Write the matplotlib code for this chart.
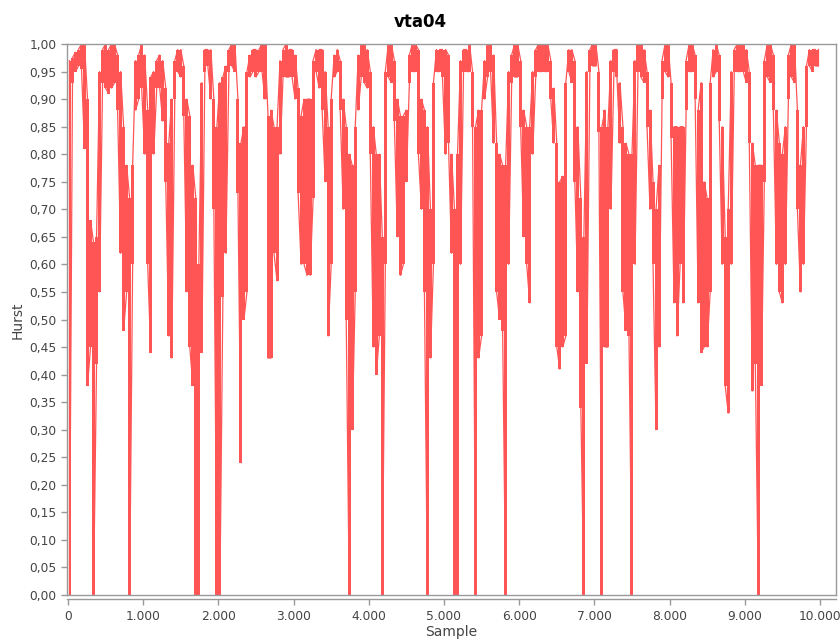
import numpy as np
import matplotlib
matplotlib.use("Agg")
import matplotlib.pyplot as plt
from matplotlib.ticker import FuncFormatter, MultipleLocator

plt.rcParams["path.simplify"] = False

# Per-bin (40 samples) max and min of the Hurst series
bin_width = 40
hurst_max = [
    0.97, 0.975, 0.985, 0.99, 1.0, 1.0, 0.9, 0.68, 0.64, 0.65,
    0.95, 0.99, 1.0, 0.99, 1.0, 1.0, 0.98, 0.95, 0.85, 0.78,
    0.72, 0.78, 0.97, 0.98, 1.0, 0.98, 0.88, 0.94, 0.95, 0.97,
    0.98, 0.97, 0.92, 0.82, 0.9, 0.97, 0.99, 0.99, 0.96, 0.9,
    0.87, 0.78,
    0.72, 0.6, 0.93, 0.99, 0.99, 0.99, 0.9, 0.85, 0.93, 0.94,
    0.96, 0.99, 1.0, 1.0, 0.9, 0.82, 0.85, 0.95, 0.98, 0.99,
    0.99, 0.99, 1.0, 1.0, 0.87, 0.88, 0.85, 0.85, 0.97, 0.99,
    1.0, 0.99, 0.99, 0.98, 0.92, 0.87, 0.9, 0.9, 0.9, 0.97,
    0.99, 0.99,
    0.99, 0.95, 0.85, 0.9, 0.98, 0.99, 0.97, 0.9, 0.85, 0.8,
    0.78, 0.85, 0.98, 1.0, 1.0, 0.99, 0.95, 0.85, 0.8, 0.8,
    0.65, 0.95, 1.0, 1.0, 0.97, 0.9, 0.87, 0.87, 0.88, 0.98,
    1.0, 1.0, 0.99, 0.9, 0.88, 0.85, 0.7, 0.93, 0.99, 0.99,
    0.99, 0.99,
    0.98, 0.8, 0.7, 0.8, 0.97, 0.99, 0.99, 1.0, 0.95, 0.85,
    0.88, 0.88, 0.97, 1.0, 1.0, 0.98, 0.82, 0.8, 0.78, 0.78,
    0.95, 0.98, 1.0, 1.0, 0.97, 0.88, 0.85, 0.85, 0.95, 0.99,
    1.0, 1.0, 1.0, 1.0, 0.97, 0.92, 0.82, 0.75, 0.76, 0.93,
    0.99, 0.99,
    0.97, 0.85, 0.72, 0.65, 0.95, 0.99, 1.0, 1.0, 0.95, 0.85,
    0.88, 0.85, 0.97, 0.99, 0.99, 0.93, 0.85, 0.82, 0.8, 0.8,
    0.97, 1.0, 1.0, 0.99, 0.95, 0.88, 0.75, 0.7, 0.78, 0.97,
    1.0, 1.0, 0.93, 0.85, 0.85, 0.85, 0.85, 0.97, 1.0, 1.0,
    0.98, 0.88,
    0.93, 0.75, 0.72, 0.93, 0.99, 1.0, 0.98, 0.85, 0.65, 0.7,
    0.95, 0.99, 1.0, 1.0, 1.0, 0.99, 0.95, 0.82, 0.78, 0.78,
    0.78, 0.97, 1.0, 1.0, 0.98, 0.88, 0.82, 0.8, 0.85, 0.98,
    1.0, 1.0, 0.88, 0.78, 0.85, 0.96, 0.99, 0.99, 0.99, 0.99,
]
hurst_min = [
    0.0, 0.93, 0.95, 0.96, 0.955, 0.81, 0.38, 0.45, 0.0, 0.42,
    0.55, 0.93, 0.92, 0.91, 0.92, 0.93, 0.88, 0.62, 0.48, 0.55,
    0.0, 0.6, 0.88, 0.9, 0.92, 0.8, 0.6, 0.44, 0.8, 0.92,
    0.92, 0.86, 0.75, 0.47, 0.43, 0.9, 0.95, 0.94, 0.87, 0.55,
    0.45, 0.38,
    0.0, 0.0, 0.44, 0.95, 0.96, 0.9, 0.7, 0.0, 0.0, 0.54,
    0.62, 0.95, 0.96, 0.95, 0.73, 0.24, 0.5, 0.55, 0.94, 0.95,
    0.94, 0.95, 0.95, 0.9, 0.43, 0.43, 0.62, 0.57, 0.8, 0.94,
    0.94, 0.94, 0.94, 0.9, 0.73, 0.6, 0.6, 0.58, 0.58, 0.72,
    0.95, 0.92,
    0.88, 0.75, 0.47, 0.6, 0.94, 0.95, 0.88, 0.7, 0.5, 0.0,
    0.3, 0.55, 0.88, 0.94, 0.93, 0.92, 0.8, 0.45, 0.4, 0.47,
    0.0, 0.6, 0.94, 0.93, 0.86, 0.65, 0.58, 0.6, 0.75, 0.93,
    0.95, 0.95, 0.8, 0.7, 0.55, 0.0, 0.43, 0.6, 0.95, 0.95,
    0.94, 0.8,
    0.82, 0.62, 0.0, 0.0, 0.6, 0.95, 0.95, 0.95, 0.85, 0.0,
    0.43, 0.47, 0.9, 0.94, 0.95, 0.82, 0.55, 0.5, 0.48, 0.0,
    0.6, 0.93, 0.94, 0.94, 0.85, 0.65, 0.6, 0.53, 0.8, 0.94,
    0.95, 0.95, 0.95, 0.95, 0.9, 0.82, 0.45, 0.41, 0.45, 0.47,
    0.95, 0.93,
    0.75, 0.55, 0.34, 0.0, 0.42, 0.95, 0.96, 0.96, 0.84, 0.0,
    0.45, 0.45, 0.7, 0.95, 0.94, 0.82, 0.55, 0.48, 0.47, 0.0,
    0.6, 0.95, 0.94, 0.93, 0.85, 0.7, 0.6, 0.3, 0.45, 0.9,
    0.95, 0.94, 0.83, 0.53, 0.47, 0.6, 0.53, 0.88, 0.95, 0.95,
    0.9, 0.53,
    0.44, 0.45, 0.45, 0.55, 0.94, 0.95, 0.86, 0.6, 0.38, 0.33,
    0.6, 0.95, 0.95, 0.95, 0.95, 0.93, 0.82, 0.37, 0.42, 0.0,
    0.38, 0.75, 0.94, 0.93, 0.88, 0.6, 0.55, 0.53, 0.6, 0.9,
    0.94, 0.93, 0.7, 0.55, 0.6, 0.85, 0.96, 0.95, 0.96, 0.96,
]
x_ticks = [0, 1000, 2000, 3000, 4000, 5000, 6000, 7000, 8000, 9000, 10000]

hmax = np.array(hurst_max)
hmin = np.array(hurst_min)
n = len(hmax)
centers = np.arange(n) * bin_width + bin_width / 2.0
# zig-zag through each bin's max and min
xs = np.repeat(centers, 2)
ys = np.empty(2 * n)
even = (np.arange(n) % 2 == 0)
ys[0::2] = np.where(even, hmax, hmin)
ys[1::2] = np.where(even, hmin, hmax)

red = "#FF5555"
grey = "#999999"
fig = plt.figure(figsize=(8.4, 6.41), dpi=100)
ax = fig.add_axes([67 / 840, 1 - 595 / 641, (836 - 67) / 840, (595 - 44) / 641])
ax.fill_between(centers, hmin, hmax, step="mid", color=red, linewidth=0)
ax.plot(xs, ys, color=red, lw=0.9, antialiased=True)
ax.axhline(0, color=grey, lw=1.0, zorder=5, clip_on=False)

ax.set_xlim(-13, 10213)
ax.set_ylim(0, 1)
ax.set_xticks(x_ticks)
ax.yaxis.set_major_locator(MultipleLocator(0.05))
ax.xaxis.set_major_formatter(FuncFormatter(lambda v, p: f"{int(round(v)):,}".replace(",", ".")))
ax.yaxis.set_major_formatter(FuncFormatter(lambda v, p: f"{v:.2f}".replace(".", ",")))

for s in ax.spines.values():
    s.set_color(grey)
    s.set_linewidth(1.0)
ax.spines["bottom"].set_position(("outward", 3))
ax.tick_params(axis="both", colors=grey, labelcolor="#444444", labelsize=8.8, length=4, width=1)

fig.text(0.5, 1 - 22 / 641, "vta04", ha="center", va="center", fontsize=12, fontweight="bold", color="black")
fig.text((67 + 836) / 2 / 840, 1 - 632 / 641, "Sample", ha="center", va="center", fontsize=10, color="#444444")
fig.text(18 / 840, 1 - 320 / 641, "Hurst", ha="center", va="center", rotation=90, fontsize=10, color="#444444")

fig.savefig("out.png", dpi=100, facecolor="white")
